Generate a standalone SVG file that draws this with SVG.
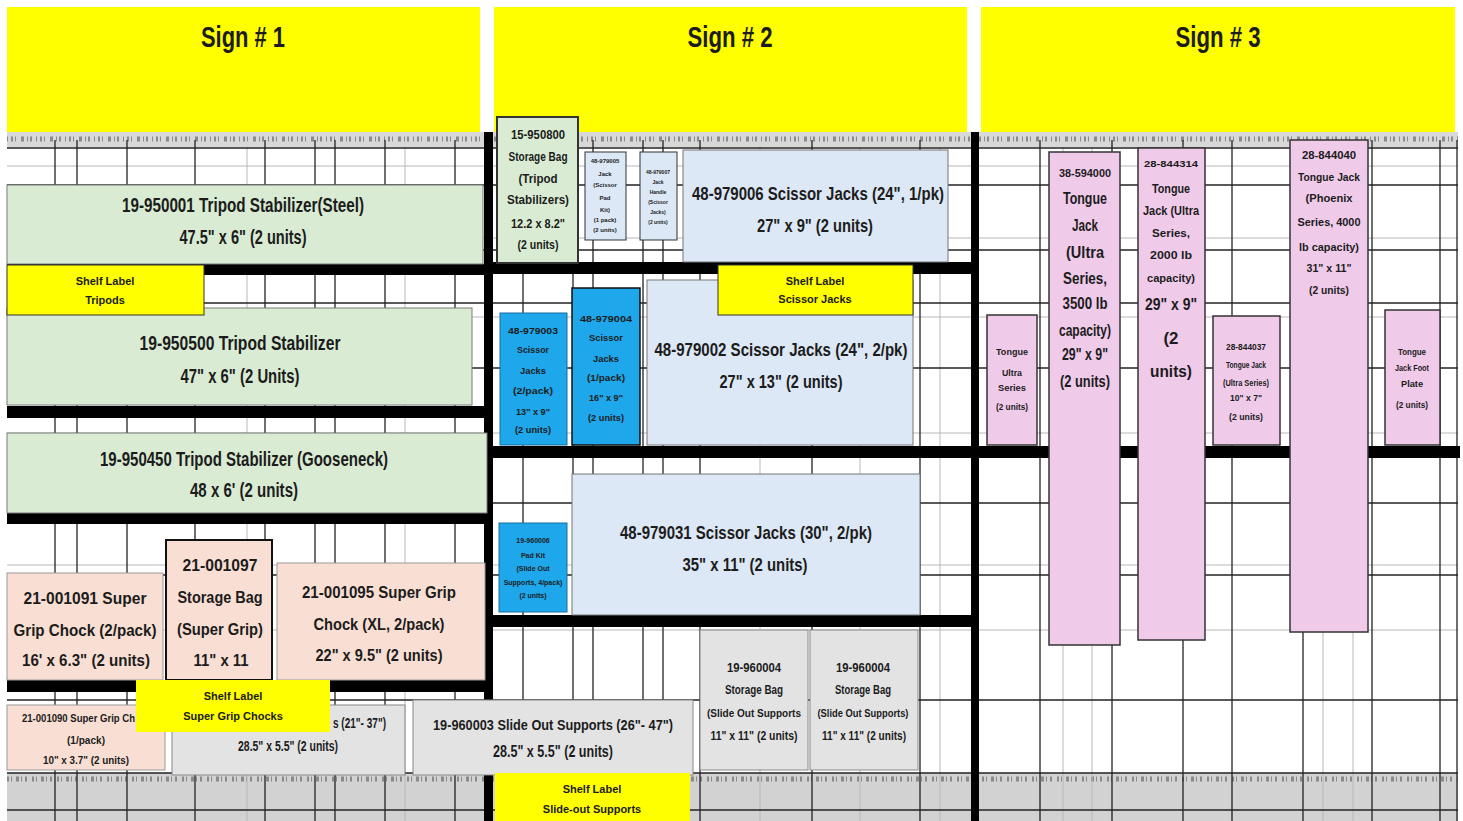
<svg xmlns="http://www.w3.org/2000/svg" width="1463" height="821" viewBox="0 0 1463 821">
<style>
text{font-family:"Liberation Sans Narrow","Liberation Sans",Arial,sans-serif;font-weight:bold;fill:#1c1c1c;text-anchor:middle}
.h{font-size:30px}
.a{font-size:20px}
.a8{font-size:18px}
.p{font-size:16px}
.b{font-size:17px}
.m{font-size:15px}
.c{font-size:12px}
.d{font-size:11px}
.e{font-size:9px}
.f{font-size:7px}
.g{font-size:6px}
.g5{font-size:5px}
.yl{fill:#ffff00}
.gr{fill:#d9ecd3;stroke:#7a7a7a;stroke-width:1}
.pe{fill:#f9dfd3;stroke:#999;stroke-width:1}
.lb{fill:#dce8f5;stroke:#777;stroke-width:1}
.bb{fill:#1ea7ea;stroke:#1a6fa0;stroke-width:1}
.pk{fill:#efcae9;stroke:#333;stroke-width:1.5}
.gy{fill:#e3e3e4;stroke:#888;stroke-width:1}
.thin line{stroke:#222;stroke-width:1.3}
.light line{stroke:#b8b8b8;stroke-width:1}
.thick rect{fill:#000}
</style>
<rect x="0" y="0" width="1463" height="821" fill="#ffffff"/>
<g id="headers">
<rect class="yl" x="7" y="7" width="473" height="125"/>
<rect class="yl" x="494" y="7" width="473" height="125"/>
<rect class="yl" x="981" y="7" width="474" height="125"/>
<text class="h" x="243" y="47" textLength="84" lengthAdjust="spacingAndGlyphs">Sign # 1</text>
<text class="h" x="730" y="47" textLength="85" lengthAdjust="spacingAndGlyphs">Sign # 2</text>
<text class="h" x="1218" y="47" textLength="85" lengthAdjust="spacingAndGlyphs">Sign # 3</text>
</g>
<g id="strips">
<rect x="7" y="132" width="1451" height="15" fill="#d8d8d8"/>
<line x1="7" y1="139" x2="1458" y2="139" stroke="#8a8a8a" stroke-width="5" stroke-dasharray="1 3 2 2 1 5 3 3 1 2 2 4"/>
<rect x="7" y="773" width="1451" height="48" fill="#d2d2d2"/>
<line x1="7" y1="779" x2="1458" y2="779" stroke="#8a8a8a" stroke-width="5" stroke-dasharray="2 2 1 4 3 2 1 3 2 5"/>
</g>
<g id="grid">
<g class="light">
<line x1="7" y1="166" x2="1458" y2="166"/><line x1="7" y1="238" x2="1458" y2="238"/><line x1="7" y1="317" x2="1458" y2="317"/><line x1="7" y1="433" x2="1458" y2="433"/><line x1="7" y1="565" x2="1458" y2="565"/><line x1="7" y1="630" x2="1458" y2="630"/>
<line x1="247" y1="147" x2="247" y2="821"/><line x1="405" y1="147" x2="405" y2="821"/><line x1="760" y1="147" x2="760" y2="821"/><line x1="860" y1="147" x2="860" y2="821"/><line x1="940" y1="147" x2="940" y2="821"/><line x1="1063" y1="147" x2="1063" y2="821"/><line x1="1092" y1="147" x2="1092" y2="821"/><line x1="1323" y1="147" x2="1323" y2="821"/><line x1="1353" y1="147" x2="1353" y2="821"/>
</g>
<g class="thin">
<line x1="7" y1="148" x2="1458" y2="148"/><line x1="7" y1="185" x2="1458" y2="185"/><line x1="7" y1="250" x2="1458" y2="250"/><line x1="7" y1="303" x2="1458" y2="303"/><line x1="7" y1="368" x2="1458" y2="368"/><line x1="7" y1="503" x2="1458" y2="503"/><line x1="7" y1="575" x2="1458" y2="575"/><line x1="7" y1="700" x2="1458" y2="700"/><line x1="7" y1="773" x2="1458" y2="773"/><line x1="7" y1="810" x2="1458" y2="810"/>
<line x1="55" y1="140" x2="55" y2="821"/><line x1="77" y1="140" x2="77" y2="821"/><line x1="127" y1="140" x2="127" y2="821"/><line x1="195" y1="140" x2="195" y2="821"/><line x1="265" y1="140" x2="265" y2="821"/><line x1="315" y1="140" x2="315" y2="821"/><line x1="335" y1="140" x2="335" y2="821"/><line x1="385" y1="140" x2="385" y2="821"/><line x1="455" y1="140" x2="455" y2="821"/>
<line x1="523" y1="140" x2="523" y2="821"/><line x1="573" y1="140" x2="573" y2="821"/><line x1="593" y1="140" x2="593" y2="821"/><line x1="643" y1="140" x2="643" y2="821"/><line x1="663" y1="140" x2="663" y2="821"/><line x1="700" y1="140" x2="700" y2="821"/><line x1="812" y1="140" x2="812" y2="821"/><line x1="920" y1="140" x2="920" y2="821"/>
<line x1="1040" y1="140" x2="1040" y2="821"/><line x1="1112" y1="140" x2="1112" y2="821"/><line x1="1183" y1="140" x2="1183" y2="821"/><line x1="1232" y1="140" x2="1232" y2="821"/><line x1="1303" y1="140" x2="1303" y2="821"/><line x1="1372" y1="140" x2="1372" y2="821"/><line x1="1440" y1="140" x2="1440" y2="821"/><line x1="1457" y1="140" x2="1457" y2="821"/>
</g>
</g>
<g id="thick" class="thick">
<rect x="484" y="132" width="9" height="689"/>
<rect x="971" y="132" width="8" height="689"/>
<rect x="7" y="264" width="483" height="11"/>
<rect x="7" y="406" width="483" height="12"/>
<rect x="7" y="513" width="483" height="11"/>
<rect x="7" y="680" width="483" height="12"/>
<rect x="490" y="262" width="485" height="12"/>
<rect x="490" y="446" width="970" height="12"/>
<rect x="490" y="615" width="485" height="12"/>
</g>
<g id="n-19-950001">
<rect class="gr" x="7" y="185" width="476" height="79"/>
<text class="a" x="243" y="212" textLength="242" lengthAdjust="spacingAndGlyphs">19-950001 Tripod Stabilizer(Steel)</text>
<text class="a" x="243" y="244" textLength="127" lengthAdjust="spacingAndGlyphs">47.5" x 6" (2 units)</text>
</g>
<g id="n-19-950500">
<rect class="gr" x="7" y="308" width="465" height="97"/>
<text class="a" x="240" y="350" textLength="201" lengthAdjust="spacingAndGlyphs">19-950500 Tripod Stabilizer</text>
<text class="a" x="240" y="383" textLength="119" lengthAdjust="spacingAndGlyphs">47" x 6" (2 Units)</text>
</g>
<g id="n-19-950450">
<rect class="gr" x="7" y="433" width="480" height="80"/>
<text class="a" x="244" y="466" textLength="288" lengthAdjust="spacingAndGlyphs">19-950450 Tripod Stabilizer (Gooseneck)</text>
<text class="a" x="244" y="497" textLength="108" lengthAdjust="spacingAndGlyphs">48 x 6' (2 units)</text>
</g>
<g id="n-21-001091">
<rect class="pe" x="7" y="573" width="156" height="107"/>
<text class="p" x="85" y="604" textLength="123" lengthAdjust="spacingAndGlyphs">21-001091 Super</text>
<text class="p" x="85" y="636" textLength="143" lengthAdjust="spacingAndGlyphs">Grip Chock (2/pack)</text>
<text class="p" x="86" y="666" textLength="128" lengthAdjust="spacingAndGlyphs">16' x 6.3" (2 units)</text>
</g>
<g id="n-21-001097">
<rect class="pe" x="166" y="540" width="106" height="140" style="stroke:#111;stroke-width:2"/>
<text class="p" x="220" y="571" textLength="75" lengthAdjust="spacingAndGlyphs">21-001097</text>
<text class="p" x="220" y="603" textLength="85" lengthAdjust="spacingAndGlyphs">Storage Bag</text>
<text class="p" x="220" y="635" textLength="86" lengthAdjust="spacingAndGlyphs">(Super Grip)</text>
<text class="p" x="221" y="666" textLength="55" lengthAdjust="spacingAndGlyphs">11" x 11</text>
</g>
<g id="n-21-001095">
<rect class="pe" x="277" y="563" width="208" height="117"/>
<text class="p" x="379" y="598" textLength="154" lengthAdjust="spacingAndGlyphs">21-001095 Super Grip</text>
<text class="p" x="379" y="630" textLength="131" lengthAdjust="spacingAndGlyphs">Chock (XL, 2/pack)</text>
<text class="p" x="379" y="661" textLength="127" lengthAdjust="spacingAndGlyphs">22" x 9.5" (2 units)</text>
</g>
<g id="n-21-001090">
<rect class="pe" x="7" y="705" width="158" height="65"/>
<text class="d" x="22" y="722" style="text-anchor:start" textLength="113" lengthAdjust="spacingAndGlyphs">21-001090 Super Grip Ch</text>
<text class="d" x="86" y="744" textLength="38" lengthAdjust="spacingAndGlyphs">(1/pack)</text>
<text class="d" x="86" y="764" textLength="86" lengthAdjust="spacingAndGlyphs">10" x 3.7" (2 units)</text>
</g>
<g id="n-19-960002">
<rect class="gy" x="172" y="705" width="233" height="70"/>
<text class="m" x="333" y="728" style="text-anchor:start" textLength="53" lengthAdjust="spacingAndGlyphs">s (21"- 37")</text>
<text class="m" x="288" y="751" textLength="100" lengthAdjust="spacingAndGlyphs">28.5" x 5.5" (2 units)</text>
</g>
<g id="n-15-950800">
<rect class="gr" x="497" y="117" width="81" height="146" style="stroke:#333;stroke-width:2"/>
<text class="c" x="538" y="139" textLength="54" lengthAdjust="spacingAndGlyphs">15-950800</text>
<text class="c" x="538" y="161" textLength="59" lengthAdjust="spacingAndGlyphs">Storage Bag</text>
<text class="c" x="538" y="183" textLength="39" lengthAdjust="spacingAndGlyphs">(Tripod</text>
<text class="c" x="538" y="204" textLength="62" lengthAdjust="spacingAndGlyphs">Stabilizers)</text>
<text class="c" x="538" y="228" textLength="54" lengthAdjust="spacingAndGlyphs">12.2 x 8.2"</text>
<text class="c" x="538" y="249" textLength="41" lengthAdjust="spacingAndGlyphs">(2 units)</text>
</g>
<g id="n-small-a">
<rect class="lb" x="585" y="152" width="41" height="88" style="stroke:#333"/>
<text class="g" x="605" y="163">48-979005</text>
<text class="g" x="605" y="176">Jack</text>
<text class="g" x="605" y="187">(Scissor</text>
<text class="g" x="605" y="200">Pad</text>
<text class="g" x="605" y="212">Kit)</text>
<text class="g" x="605" y="222">(1 pack)</text>
<text class="g" x="605" y="232">(2 units)</text>
</g>
<g id="n-small-b">
<rect class="lb" x="640" y="152" width="37" height="88" style="stroke:#333"/>
<text class="g5" x="658" y="174">48-979007</text>
<text class="g5" x="658" y="184">Jack</text>
<text class="g5" x="658" y="194">Handle</text>
<text class="g5" x="658" y="204">(Scissor</text>
<text class="g5" x="658" y="214">Jacks)</text>
<text class="g5" x="658" y="224">(2 units)</text>
</g>
<g id="n-48-979006">
<rect class="lb" x="683" y="150" width="265" height="112"/>
<text class="a8" x="818" y="200" textLength="252" lengthAdjust="spacingAndGlyphs">48-979006 Scissor Jacks (24", 1/pk)</text>
<text class="a8" x="815" y="232" textLength="116" lengthAdjust="spacingAndGlyphs">27" x 9" (2 units)</text>
</g>
<g id="n-48-979002">
<rect class="lb" x="647" y="280" width="266" height="165"/>
<text class="a8" x="781" y="356" textLength="253" lengthAdjust="spacingAndGlyphs">48-979002 Scissor Jacks (24", 2/pk)</text>
<text class="a8" x="781" y="388" textLength="123" lengthAdjust="spacingAndGlyphs">27" x 13" (2 units)</text>
</g>
<g id="n-48-979003">
<rect class="bb" x="500" y="313" width="67" height="132"/>
<text class="e" x="533" y="334" textLength="50" lengthAdjust="spacingAndGlyphs">48-979003</text>
<text class="e" x="533" y="353" textLength="32" lengthAdjust="spacingAndGlyphs">Scissor</text>
<text class="e" x="533" y="374" textLength="26" lengthAdjust="spacingAndGlyphs">Jacks</text>
<text class="e" x="533" y="394" textLength="40" lengthAdjust="spacingAndGlyphs">(2/pack)</text>
<text class="e" x="533" y="415" textLength="34" lengthAdjust="spacingAndGlyphs">13" x 9"</text>
<text class="e" x="533" y="433" textLength="36" lengthAdjust="spacingAndGlyphs">(2 units)</text>
</g>
<g id="n-48-979004">
<rect class="bb" x="572" y="288" width="68" height="157" style="stroke:#111;stroke-width:1.5"/>
<text class="e" x="606" y="322" textLength="52" lengthAdjust="spacingAndGlyphs">48-979004</text>
<text class="e" x="606" y="341" textLength="34" lengthAdjust="spacingAndGlyphs">Scissor</text>
<text class="e" x="606" y="362" textLength="26" lengthAdjust="spacingAndGlyphs">Jacks</text>
<text class="e" x="606" y="381" textLength="38" lengthAdjust="spacingAndGlyphs">(1/pack)</text>
<text class="e" x="606" y="401" textLength="34" lengthAdjust="spacingAndGlyphs">16" x 9"</text>
<text class="e" x="606" y="421" textLength="36" lengthAdjust="spacingAndGlyphs">(2 units)</text>
</g>
<g id="n-19-960006">
<rect class="bb" x="499" y="523" width="68" height="89"/>
<text class="f" x="533" y="543">19-960006</text>
<text class="f" x="533" y="558">Pad Kit</text>
<text class="f" x="533" y="571">(Slide Out</text>
<text class="f" x="533" y="585">Supports, 4/pack)</text>
<text class="f" x="533" y="598">(2 units)</text>
</g>
<g id="n-48-979031">
<rect class="lb" x="572" y="474" width="348" height="141"/>
<text class="a8" x="746" y="539" textLength="252" lengthAdjust="spacingAndGlyphs">48-979031 Scissor Jacks (30", 2/pk)</text>
<text class="a8" x="745" y="571" textLength="125" lengthAdjust="spacingAndGlyphs">35" x 11" (2 units)</text>
</g>
<g id="n-19-960004a">
<rect class="gy" x="700" y="630" width="108" height="140"/>
<text class="c" x="754" y="672" textLength="54" lengthAdjust="spacingAndGlyphs">19-960004</text>
<text class="c" x="754" y="694" textLength="58" lengthAdjust="spacingAndGlyphs">Storage Bag</text>
<text class="d" x="754" y="717" textLength="94" lengthAdjust="spacingAndGlyphs">(Slide Out Supports</text>
<text class="c" x="754" y="740" textLength="87" lengthAdjust="spacingAndGlyphs">11" x 11" (2 units)</text>
</g>
<g id="n-19-960004b">
<rect class="gy" x="810" y="630" width="108" height="140"/>
<text class="c" x="863" y="672" textLength="54" lengthAdjust="spacingAndGlyphs">19-960004</text>
<text class="c" x="863" y="694" textLength="56" lengthAdjust="spacingAndGlyphs">Storage Bag</text>
<text class="d" x="863" y="717" textLength="91" lengthAdjust="spacingAndGlyphs">(Slide Out Supports)</text>
<text class="c" x="864" y="740" textLength="84" lengthAdjust="spacingAndGlyphs">11" x 11" (2 units)</text>
</g>
<g id="n-19-960003">
<rect class="gy" x="413" y="700" width="280" height="75"/>
<text class="m" x="553" y="730" textLength="240" lengthAdjust="spacingAndGlyphs">19-960003 Slide Out Supports (26"- 47")</text>
<text class="b" x="553" y="757" textLength="120" lengthAdjust="spacingAndGlyphs">28.5" x 5.5" (2 units)</text>
</g>
<g id="n-pink-1">
<rect class="pk" x="987" y="315" width="50" height="130"/>
<text class="e" x="1012" y="355" textLength="32" lengthAdjust="spacingAndGlyphs">Tongue</text>
<text class="e" x="1012" y="376" textLength="20" lengthAdjust="spacingAndGlyphs">Ultra</text>
<text class="e" x="1012" y="391" textLength="28" lengthAdjust="spacingAndGlyphs">Series</text>
<text class="e" x="1012" y="410" textLength="32" lengthAdjust="spacingAndGlyphs">(2 units)</text>
</g>
<g id="n-38-594000">
<rect class="pk" x="1049" y="152" width="71" height="493"/>
<text class="d" x="1085" y="177" textLength="52" lengthAdjust="spacingAndGlyphs">38-594000</text>
<text class="b" x="1085" y="204" textLength="44" lengthAdjust="spacingAndGlyphs">Tongue</text>
<text class="b" x="1085" y="231" textLength="26" lengthAdjust="spacingAndGlyphs">Jack</text>
<text class="b" x="1085" y="258" textLength="38" lengthAdjust="spacingAndGlyphs">(Ultra</text>
<text class="b" x="1085" y="284" textLength="44" lengthAdjust="spacingAndGlyphs">Series,</text>
<text class="b" x="1085" y="309" textLength="45" lengthAdjust="spacingAndGlyphs">3500 lb</text>
<text class="b" x="1085" y="336" textLength="52" lengthAdjust="spacingAndGlyphs">capacity)</text>
<text class="b" x="1085" y="360" textLength="46" lengthAdjust="spacingAndGlyphs">29" x 9"</text>
<text class="b" x="1085" y="387" textLength="50" lengthAdjust="spacingAndGlyphs">(2 units)</text>
</g>
<g id="n-28-844314">
<rect class="pk" x="1138" y="148" width="67" height="492"/>
<text class="e" x="1171" y="167" textLength="54" lengthAdjust="spacingAndGlyphs">28-844314</text>
<text class="c" x="1171" y="193" textLength="38" lengthAdjust="spacingAndGlyphs">Tongue</text>
<text class="c" x="1171" y="215" textLength="56" lengthAdjust="spacingAndGlyphs">Jack (Ultra</text>
<text class="d" x="1171" y="237" textLength="38" lengthAdjust="spacingAndGlyphs">Series,</text>
<text class="d" x="1171" y="259" textLength="42" lengthAdjust="spacingAndGlyphs">2000 lb</text>
<text class="d" x="1171" y="282" textLength="48" lengthAdjust="spacingAndGlyphs">capacity)</text>
<text class="b" x="1171" y="310" textLength="52" lengthAdjust="spacingAndGlyphs">29" x 9"</text>
<text class="b" x="1171" y="344" textLength="15" lengthAdjust="spacingAndGlyphs">(2</text>
<text class="b" x="1171" y="377" textLength="42" lengthAdjust="spacingAndGlyphs">units)</text>
</g>
<g id="n-28-844037">
<rect class="pk" x="1213" y="316" width="67" height="129"/>
<text class="e" x="1246" y="350" textLength="40" lengthAdjust="spacingAndGlyphs">28-844037</text>
<text class="e" x="1246" y="368" textLength="40" lengthAdjust="spacingAndGlyphs">Tongue Jack</text>
<text class="e" x="1246" y="386" textLength="46" lengthAdjust="spacingAndGlyphs">(Ultra Series)</text>
<text class="e" x="1246" y="401" textLength="32" lengthAdjust="spacingAndGlyphs">10" x 7"</text>
<text class="e" x="1246" y="420" textLength="34" lengthAdjust="spacingAndGlyphs">(2 units)</text>
</g>
<g id="n-28-844040">
<rect class="pk" x="1290" y="140" width="78" height="492"/>
<text class="d" x="1329" y="159" textLength="54" lengthAdjust="spacingAndGlyphs">28-844040</text>
<text class="d" x="1329" y="181" textLength="62" lengthAdjust="spacingAndGlyphs">Tongue Jack</text>
<text class="d" x="1329" y="202" textLength="47" lengthAdjust="spacingAndGlyphs">(Phoenix</text>
<text class="d" x="1329" y="226" textLength="63" lengthAdjust="spacingAndGlyphs">Series, 4000</text>
<text class="d" x="1329" y="251" textLength="60" lengthAdjust="spacingAndGlyphs">lb capacity)</text>
<text class="d" x="1329" y="272" textLength="45" lengthAdjust="spacingAndGlyphs">31" x 11"</text>
<text class="d" x="1329" y="294" textLength="40" lengthAdjust="spacingAndGlyphs">(2 units)</text>
</g>
<g id="n-pink-6">
<rect class="pk" x="1385" y="310" width="55" height="135"/>
<text class="e" x="1412" y="355" textLength="28" lengthAdjust="spacingAndGlyphs">Tongue</text>
<text class="e" x="1412" y="371" textLength="34" lengthAdjust="spacingAndGlyphs">Jack Foot</text>
<text class="e" x="1412" y="387" textLength="22" lengthAdjust="spacingAndGlyphs">Plate</text>
<text class="e" x="1412" y="408" textLength="32" lengthAdjust="spacingAndGlyphs">(2 units)</text>
</g>
<g id="labels">
<g id="l-tripods">
<rect class="yl" x="7" y="265" width="197" height="50" style="stroke:#333;stroke-width:1"/>
<text class="d" x="105" y="285">Shelf Label</text>
<text class="d" x="105" y="304">Tripods</text>
</g>
<g id="l-scissor">
<rect class="yl" x="718" y="265" width="195" height="50" style="stroke:#333;stroke-width:1"/>
<text class="d" x="815" y="285">Shelf Label</text>
<text class="d" x="815" y="303">Scissor Jacks</text>
</g>
<g id="l-supergrip">
<rect class="yl" x="136" y="680" width="194" height="52"/>
<text class="d" x="233" y="700">Shelf Label</text>
<text class="d" x="233" y="720">Super Grip Chocks</text>
</g>
<g id="l-slideout">
<rect class="yl" x="495" y="773" width="195" height="48"/>
<text class="d" x="592" y="793">Shelf Label</text>
<text class="d" x="592" y="813">Slide-out Supports</text>
</g>
</g>
</svg>
